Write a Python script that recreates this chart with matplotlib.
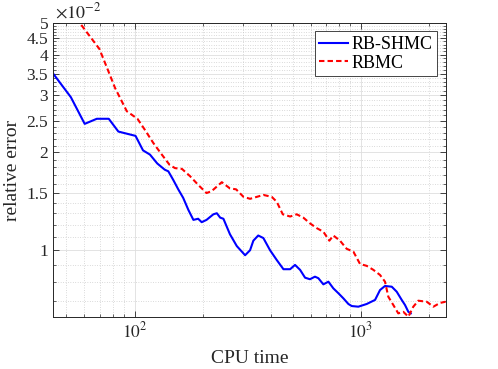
import numpy as np
from matplotlib import pyplot as plt
from matplotlib.ticker import FixedLocator, NullFormatter

plt.rcParams['font.family'] = ['Liberation Serif', 'DejaVu Serif']
plt.rcParams['mathtext.fontset'] = 'stix'

# RB-SHMC (relative error in units of 1e-2)
shmc_t = [43.8, 52.3, 60.2, 68.1, 76.9, 84.8, 101, 109, 117, 126, 136, 141, 148, 156, 164,
          173, 182, 191, 198, 208, 223, 231, 239, 247, 264, 283, 308, 324, 335, 352, 371,
          397, 425, 455, 487, 512, 539, 567, 596, 627, 649, 683, 719, 756, 796, 837, 881,
          912, 975, 1062, 1156, 1216, 1279, 1370, 1441, 1516, 1568, 1622, 1662]
shmc_err = [3.49, 2.96, 2.45, 2.54, 2.54, 2.32, 2.25, 2.03, 1.97, 1.85, 1.77, 1.75, 1.65, 1.54, 1.45,
            1.33, 1.24, 1.25, 1.22, 1.24, 1.29, 1.30, 1.26, 1.25, 1.12, 1.03, 0.965, 1.00, 1.07, 1.11, 1.09,
            1.00, 0.933, 0.874, 0.874, 0.901, 0.870, 0.823, 0.814, 0.829, 0.820, 0.785, 0.800, 0.763, 0.737, 0.711, 0.683,
            0.673, 0.670, 0.683, 0.703, 0.754, 0.776, 0.772, 0.745, 0.703, 0.678, 0.646, 0.639]

# RBMC
rbmc_t = [55.5, 57.4, 69.9, 76.6, 82.0, 92.4, 103, 111, 121, 132, 143, 151, 162, 176, 191,
          208, 219, 243, 264, 281, 303, 324, 347, 371, 404, 425, 452, 487, 521, 557, 596,
          638, 683, 726, 756, 809, 866, 927, 992, 1062, 1136, 1216, 1279, 1323, 1392, 1464,
          1541, 1622, 1706, 1795, 1955, 2092, 2239, 2370]
rbmc_err = [5.2, 5.0, 4.17, 3.56, 3.16, 2.68, 2.54, 2.35, 2.14, 1.97, 1.83, 1.79, 1.78, 1.69, 1.59,
            1.50, 1.52, 1.62, 1.55, 1.54, 1.46, 1.44, 1.46, 1.48, 1.46, 1.41, 1.29, 1.27, 1.29, 1.26, 1.21,
            1.17, 1.14, 1.07, 1.11, 1.07, 1.01, 0.990, 0.907, 0.895, 0.870, 0.839, 0.800, 0.719, 0.678, 0.639,
            0.646, 0.624, 0.670, 0.699, 0.694, 0.670, 0.688, 0.694]

ytick_vals = [1, 1.5, 2, 2.5, 3, 3.5, 4, 4.5, 5]
ytick_labels = ['1', '1.5', '2', '2.5', '3', '3.5', '4', '4.5', '5']

axcol = (0.15, 0.15, 0.15)

fig = plt.figure(figsize=(4.98, 3.69), dpi=100)
ax = fig.add_axes([0.1064, 0.1417, 0.7884, 0.7952])

ax.plot(shmc_t, np.array(shmc_err) * 1e-2, color=(0, 0, 1), lw=1.5, label='RB-SHMC')
ax.plot(rbmc_t, np.array(rbmc_err) * 1e-2, color=(1, 0, 0), lw=1.5, ls=(0, (2.6, 1.5)), label='RBMC')

ax.set_xscale('log')
ax.set_yscale('log')
ax.set_xlim(43.6, 2370)
ax.set_ylim(0.00624, 0.05)

ax.xaxis.set_major_locator(FixedLocator([100, 1000]))
ax.set_xticklabels(['$10^2$', '$10^3$'])
ax.xaxis.set_minor_locator(FixedLocator([50, 60, 70, 80, 90, 200, 300, 400, 500, 600, 700, 800, 900, 2000]))
ax.xaxis.set_minor_formatter(NullFormatter())

ax.yaxis.set_major_locator(FixedLocator([v * 1e-2 for v in ytick_vals]))
ax.set_yticklabels(ytick_labels)
yminor = [v / 1000 for v in range(7, 50) if v % 5 != 0]
ax.yaxis.set_minor_locator(FixedLocator(yminor))
ax.yaxis.set_minor_formatter(NullFormatter())

ax.grid(True, which='major', color=(0.87, 0.87, 0.87), lw=0.6)
ax.grid(True, which='minor', color=(0.72, 0.72, 0.72), lw=0.5, ls=(0, (1, 2.5)))
ax.set_axisbelow(True)

ax.tick_params(which='both', direction='in', top=True, right=True, colors=axcol, labelsize=12.5)
ax.tick_params(which='major', length=4, width=0.6)
ax.tick_params(which='minor', length=2.2, width=0.5)
for s in ax.spines.values():
    s.set_color(axcol)
    s.set_linewidth(0.7)

ax.set_xlabel('CPU time', fontsize=14, color=axcol, labelpad=6)
ax.set_ylabel('relative error', fontsize=14, color=axcol, labelpad=4)
ax.text(0.005, 1.005, r'$\times10^{-2}$', transform=ax.transAxes, fontsize=13, color=axcol,
        ha='left', va='bottom')

leg = ax.legend(loc='upper right', fontsize=13, handlelength=1.6, handletextpad=0.2,
                borderpad=0.25, labelspacing=0.1, fancybox=False, framealpha=1,
                borderaxespad=0.45)
leg.get_frame().set_edgecolor(axcol)
leg.get_frame().set_linewidth(0.6)

plt.savefig('out.png', dpi=100)
